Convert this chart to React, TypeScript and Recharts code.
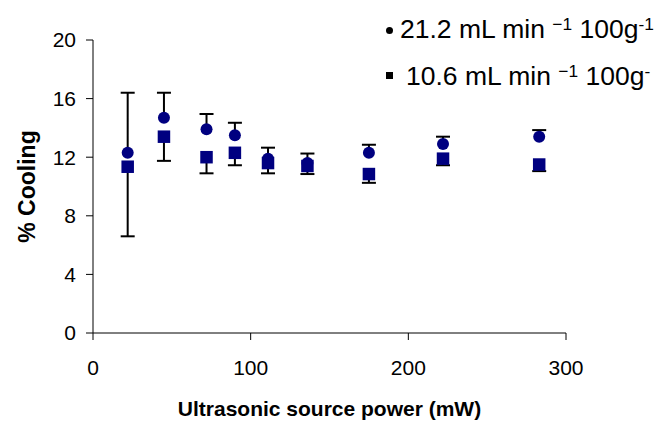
import React from 'react';
import { ComposedChart, Scatter, Line, XAxis, YAxis, Legend } from 'recharts';

// source power (mW) for each measurement
const power = [22, 45, 72, 90, 111, 136, 175, 222, 283];

// % cooling at the two flow rates
const cooling21 = [12.3, 14.7, 13.9, 13.5, 11.9, 11.6, 12.3, 12.9, 13.4];
const cooling10 = [11.35, 13.4, 12.0, 12.3, 11.6, 11.4, 10.85, 11.9, 11.5];

// one-sided error bars: up for 21.2, down for 10.6
const err21 = [4.1, 1.7, 1.05, 0.85, 0.75, 0.65, 0.55, 0.5, 0.45];
const err10 = [4.75, 1.65, 1.1, 0.85, 0.7, 0.55, 0.6, 0.45, 0.45];

const seriesNames = ['21.2 mL min', '10.6 mL min'];
const xTicks = [0, 100, 200, 300];
const yTicks = [0, 4, 8, 12, 16, 20];

const FONT = '"Liberation Sans", Arial, sans-serif';
const NAVY = '#000080';

const rows21 = power.map((x, i) => ({ x, y: cooling21[i] }));
const rows10 = power.map((x, i) => ({ x, y: cooling10[i] }));

// whiskers: value -> value±err, null breaks the line between points
const whisk21 = power.flatMap((x, i) => [
  { x, y: cooling21[i] },
  { x, y: cooling21[i] + err21[i] },
  { x, y: null },
]);
const whisk10 = power.flatMap((x, i) => [
  { x, y: cooling10[i] },
  { x, y: cooling10[i] - err10[i] },
  { x, y: null },
]);
const caps21 = power.map((x, i) => ({ x, y: cooling21[i] + err21[i] }));
const caps10 = power.map((x, i) => ({ x, y: cooling10[i] - err10[i] }));

const capShape = (p: any) => (
  <line x1={p.cx - 7} x2={p.cx + 7} y1={p.cy} y2={p.cy} stroke="#000" strokeWidth={2} />
);
const circleShape = (p: any) => <circle cx={p.cx} cy={p.cy} r={6} fill={NAVY} />;
const squareShape = (p: any) => <rect x={p.cx - 6.25} y={p.cy - 6.25} width={12.5} height={12.5} fill={NAVY} />;

const supStyle: React.CSSProperties = { fontSize: 17, verticalAlign: '0.5em', lineHeight: 0 };

const renderLegend = () => (
  <div style={{ fontFamily: FONT, fontSize: 26, color: '#000', whiteSpace: 'nowrap' }}>
    {seriesNames.map((name, i) => (
      <div key={name} style={{ height: 47, lineHeight: '47px' }}>
        <span
          style={{
            display: 'inline-block',
            width: 7,
            height: 7,
            background: '#000',
            borderRadius: i === 0 ? '50%' : 0,
            verticalAlign: 'middle',
            marginRight: i === 0 ? 7 : 13,
            position: 'relative',
            top: i === 0 ? -1 : -3,
          }}
        />
        <span style={{ display: 'inline-block', transform: 'scaleX(1.02)', transformOrigin: 'left center' }}>
          {name} <sup style={supStyle}>−1</sup> 100g<sup style={supStyle}>{i === 0 ? '-1' : '-'}</sup>
        </span>
      </div>
    ))}
  </div>
);

export default function App() {
  return (
    <div style={{ position: 'absolute', left: 0, top: 0, width: 658, height: 421, overflow: 'hidden', background: '#fff' }}>
      <ComposedChart width={658} height={421} margin={{ top: 40, right: 92, bottom: 0, left: 0 }}>
        <XAxis
          type="number"
          dataKey="x"
          domain={[0, 300]}
          ticks={xTicks}
          tickSize={7}
          tickMargin={20}
          height={88}
          axisLine={{ stroke: '#000' }}
          tickLine={{ stroke: '#000' }}
          tick={{ fill: '#000', fontSize: 21, fontFamily: FONT }}
          label={{
            value: 'Ultrasonic source power (mW)',
            position: 'insideBottom',
            offset: 5,
            style: { fill: '#000', fontSize: 21, fontWeight: 'bold', fontFamily: FONT },
          }}
        />
        <YAxis
          type="number"
          dataKey="y"
          domain={[0, 20]}
          ticks={yTicks}
          tickSize={7}
          tickMargin={10}
          width={93}
          axisLine={{ stroke: '#000' }}
          tickLine={{ stroke: '#000' }}
          tick={{ fill: '#000', fontSize: 21, fontFamily: FONT }}
          label={{
            value: '% Cooling',
            angle: -90,
            position: 'insideLeft',
            offset: 27,
            style: { textAnchor: 'middle', fill: '#000', fontSize: 23, fontWeight: 'bold', fontFamily: FONT },
          }}
        />
        {/* error bars first, markers drawn over them */}
        <Line data={whisk21} dataKey="y" type="linear" stroke="#000" strokeWidth={2} dot={false} activeDot={false} legendType="none" isAnimationActive={false} />
        <Line data={whisk10} dataKey="y" type="linear" stroke="#000" strokeWidth={2} dot={false} activeDot={false} legendType="none" isAnimationActive={false} />
        <Scatter data={caps21} dataKey="y" shape={capShape} legendType="none" isAnimationActive={false} />
        <Scatter data={caps10} dataKey="y" shape={capShape} legendType="none" isAnimationActive={false} />
        <Scatter name={seriesNames[0]} data={rows21} dataKey="y" shape={circleShape} isAnimationActive={false} />
        <Scatter name={seriesNames[1]} data={rows10} dataKey="y" shape={squareShape} isAnimationActive={false} />
        <Legend
          layout="vertical"
          align="center"
          verticalAlign="middle"
          content={renderLegend}
          wrapperStyle={{ left: 386, top: 6, width: 'auto', height: 'auto' }}
        />
      </ComposedChart>
    </div>
  );
}
